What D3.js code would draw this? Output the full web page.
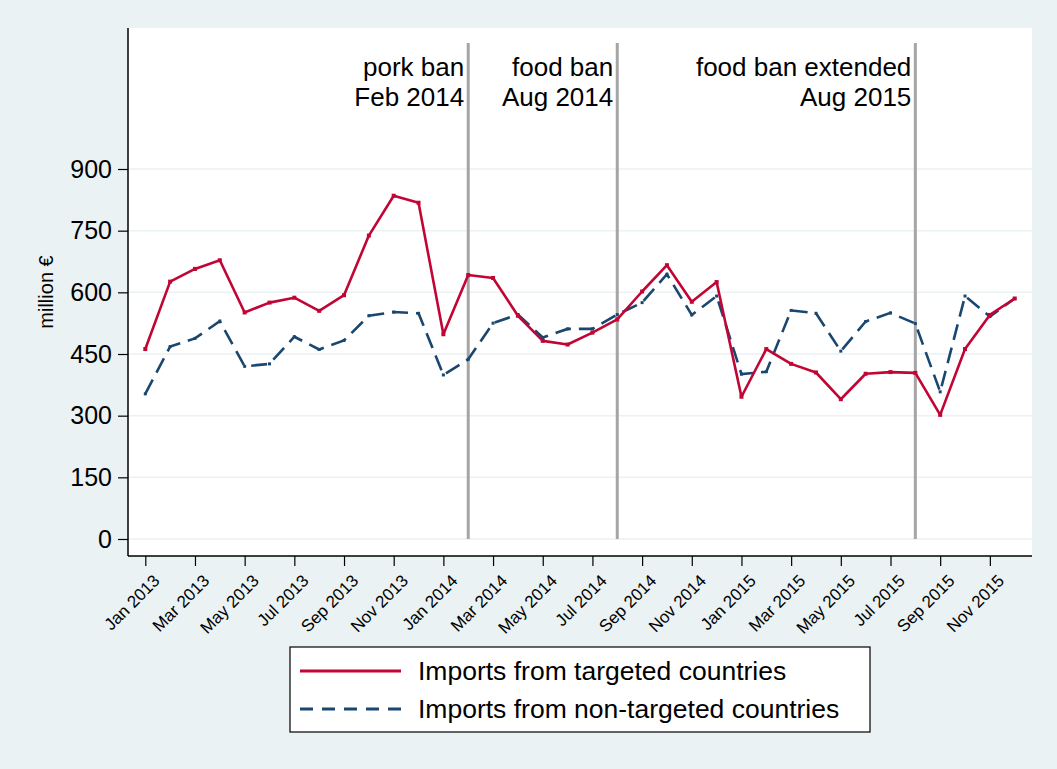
<!DOCTYPE html>
<html>
<head>
<meta charset="utf-8">
<script src="https://cdn.jsdelivr.net/npm/d3@7"></script>
<style>
  html, body { margin: 0; padding: 0; background: #eaf2f3; }
  svg { display: block; font-family: "Liberation Sans", Arial, Helvetica, sans-serif; }
</style>
</head>
<body>
<svg id="chart" width="1057" height="769"></svg>
<script>
const months = [
  "Jan 2013","Feb 2013","Mar 2013","Apr 2013","May 2013","Jun 2013","Jul 2013","Aug 2013","Sep 2013","Oct 2013","Nov 2013","Dec 2013",
  "Jan 2014","Feb 2014","Mar 2014","Apr 2014","May 2014","Jun 2014","Jul 2014","Aug 2014","Sep 2014","Oct 2014","Nov 2014","Dec 2014",
  "Jan 2015","Feb 2015","Mar 2015","Apr 2015","May 2015","Jun 2015","Jul 2015","Aug 2015","Sep 2015","Oct 2015","Nov 2015","Dec 2015"
];
const targeted = [
  462, 626, 657, 678, 551, 575, 587, 555, 593, 738, 835, 818,
  498, 642, 635, 543, 482, 473, 502, 534, 602, 666, 577, 625,
  346, 462, 426, 405, 340, 402, 406, 404, 302, 462, 545, 585
];
const nonTargeted = [
  353, 468, 488, 530, 420, 426, 492, 461, 483, 543, 552, 549,
  399, 437, 525, 546, 490, 511, 511, 546, 575, 644, 545, 591,
  401, 407, 556, 549, 457, 529, 550, 524, 358, 591, 541, 585
];
const yTicks = [0, 150, 300, 450, 600, 750, 900];
const xTickLabels = months.filter((d, i) => i % 2 === 0);
const events = ["Feb 2014", "Aug 2014", "Aug 2015"];
const eventLabels = [["pork ban", "Feb 2014"], ["food ban", "Aug 2014"], ["food ban extended", "Aug 2015"]];
const seriesNames = ["Imports from targeted countries", "Imports from non-targeted countries"];

const svg = d3.select("#chart");
const W = 1057, H = 769;
const plot = { left: 128, top: 28, right: 1032, bottom: 556 };

svg.append("rect").attr("width", W).attr("height", H).attr("fill", "#eaf2f3");
svg.append("rect").attr("x", plot.left).attr("y", plot.top)
  .attr("width", plot.right - plot.left).attr("height", plot.bottom - plot.top).attr("fill", "#ffffff");

const x = d3.scalePoint().domain(months).range([145.3, 1014.7]);
const y = d3.scaleLinear().domain([0, 900]).range([539, 169]);

// gridlines
svg.append("g").selectAll("line").data(yTicks).join("line")
  .attr("x1", plot.left).attr("x2", plot.right)
  .attr("y1", d => y(d)).attr("y2", d => y(d))
  .attr("stroke", "#eaf2f3").attr("stroke-width", 1.5);

// event lines
svg.append("g").selectAll("line").data(events).join("line")
  .attr("x1", d => x(d)).attr("x2", d => x(d))
  .attr("y1", 43).attr("y2", y(0))
  .attr("stroke", "#a5a5a5").attr("stroke-width", 3);

const ann = svg.append("g").attr("font-size", 26).attr("fill", "#000");
events.forEach((e, i) => {
  const t = ann.append("text").attr("text-anchor", "end");
  eventLabels[i].forEach((s, j) => {
    t.append("tspan").attr("x", x(e) - 4).attr("y", 76 + j * 30).text(s);
  });
});

// lines
const line = d3.line().x((d, i) => x(months[i])).y(d => y(d));
svg.append("path").datum(nonTargeted).attr("d", line)
  .attr("fill", "none").attr("stroke", "#1a476f").attr("stroke-width", 2.6)
  .attr("stroke-dasharray", "16,8");
svg.append("g").selectAll("rect").data(nonTargeted).join("rect")
  .attr("x", (d, i) => x(months[i]) - 1.5).attr("y", d => y(d) - 1.5)
  .attr("width", 3).attr("height", 3).attr("fill", "#1a476f");

svg.append("path").datum(targeted).attr("d", line)
  .attr("fill", "none").attr("stroke", "#c10534").attr("stroke-width", 2.6)
  .attr("stroke-linejoin", "round");
svg.append("g").selectAll("rect").data(targeted).join("rect")
  .attr("x", (d, i) => x(months[i]) - 2).attr("y", d => y(d) - 2)
  .attr("width", 4).attr("height", 4).attr("fill", "#c10534");

// y axis
const yAxis = svg.append("g").attr("transform", `translate(${plot.left},0)`)
  .call(d3.axisLeft(y).tickValues(yTicks).tickSize(10).tickPadding(6));
yAxis.select(".domain").remove();
yAxis.selectAll(".tick line").attr("stroke", "#000").attr("stroke-width", 1.2);
yAxis.selectAll(".tick text").attr("font-size", 25).attr("fill", "#000")
  .attr("font-family", "Liberation Sans, Arial, sans-serif");
svg.append("line").attr("x1", plot.left).attr("x2", plot.left)
  .attr("y1", plot.top).attr("y2", plot.bottom).attr("stroke", "#000").attr("stroke-width", 1.5);

// x axis
const xAxis = svg.append("g").attr("transform", `translate(0,${plot.bottom})`)
  .call(d3.axisBottom(x).tickValues(xTickLabels).tickSize(10).tickPadding(4));
xAxis.select(".domain").remove();
xAxis.selectAll(".tick line").attr("stroke", "#000").attr("stroke-width", 1.2);
xAxis.selectAll(".tick text")
  .attr("font-size", 17).attr("fill", "#000")
  .attr("font-family", "Liberation Sans, Arial, sans-serif")
  .attr("text-anchor", "end")
  .attr("dy", "0")
  .attr("transform", "translate(5,16) rotate(-45)");
svg.append("line").attr("x1", plot.left).attr("x2", plot.right)
  .attr("y1", plot.bottom).attr("y2", plot.bottom).attr("stroke", "#000").attr("stroke-width", 1.5);

// y title
svg.append("text").attr("transform", `translate(53,${(plot.top + plot.bottom) / 2}) rotate(-90)`)
  .attr("text-anchor", "middle").attr("font-size", 20).attr("fill", "#000").text("million €");

// legend
const lg = svg.append("g");
lg.append("rect").attr("x", 290).attr("y", 647).attr("width", 580).attr("height", 85)
  .attr("fill", "#fff").attr("stroke", "#000").attr("stroke-width", 1.2);
const lgColors = ["#c10534", "#1a476f"];
const lgDash = [null, "13,9"];
seriesNames.forEach((s, i) => {
  const cy = 671 + i * 38;
  lg.append("line").attr("x1", 300).attr("x2", 401).attr("y1", cy).attr("y2", cy)
    .attr("stroke", lgColors[i]).attr("stroke-width", 2.8).attr("stroke-dasharray", lgDash[i]);
  lg.append("text").attr("x", 418).attr("y", cy + 9).attr("font-size", 26.5).attr("fill", "#000").text(s);
});
</script>
</body>
</html>
